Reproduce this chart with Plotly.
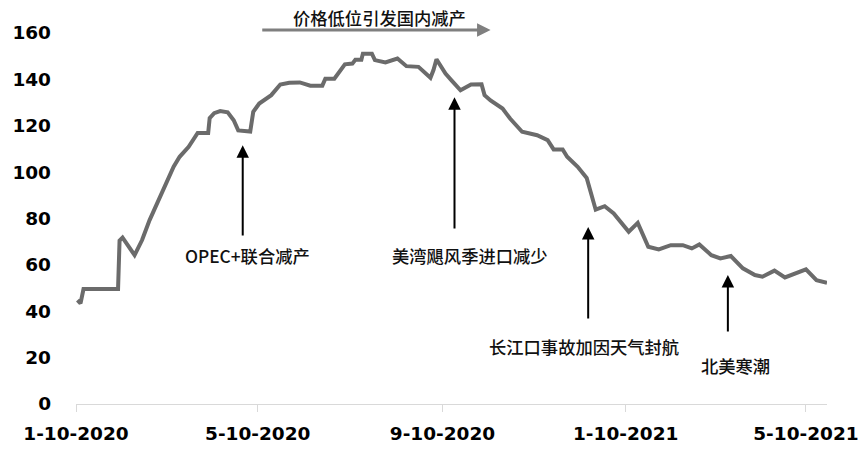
import plotly.graph_objects as go

# Price series
dates = [
    "2020-01-11", "2020-01-13", "2020-01-15", "2020-02-07", "2020-02-08", "2020-02-10",
    "2020-02-18", "2020-02-23", "2020-02-28", "2020-03-05", "2020-03-11", "2020-03-15",
    "2020-03-19", "2020-03-25", "2020-03-31", "2020-04-07", "2020-04-08", "2020-04-11",
    "2020-04-15", "2020-04-20", "2020-04-24", "2020-04-27", "2020-05-05", "2020-05-07",
    "2020-05-11", "2020-05-19", "2020-05-25", "2020-05-31", "2020-06-07", "2020-06-14",
    "2020-06-22", "2020-06-24", "2020-06-30", "2020-07-07", "2020-07-12", "2020-07-14",
    "2020-07-18", "2020-07-19", "2020-07-25", "2020-07-27", "2020-08-03", "2020-08-11",
    "2020-08-17", "2020-08-25", "2020-09-02", "2020-09-04", "2020-09-06", "2020-09-12",
    "2020-09-16", "2020-09-22", "2020-09-29", "2020-10-06", "2020-10-08", "2020-10-12",
    "2020-10-20", "2020-10-25", "2020-11-02", "2020-11-12", "2020-11-19", "2020-11-23",
    "2020-11-29", "2020-12-02", "2020-12-09", "2020-12-15", "2020-12-21", "2020-12-27",
    "2021-01-02", "2021-01-12", "2021-01-18", "2021-01-25", "2021-02-01", "2021-02-09",
    "2021-02-17", "2021-02-23", "2021-02-28", "2021-03-08", "2021-03-14", "2021-03-21",
    "2021-03-29", "2021-04-06", "2021-04-11", "2021-04-19", "2021-04-26", "2021-05-10",
    "2021-05-17", "2021-05-24",
]
values = [
    44.8, 43.4, 49.6, 49.6, 70.5, 71.8,
    64.2, 70.7, 79.3, 87.9, 96.5, 102.3,
    106.6, 110.9, 116.9, 116.9, 123.3, 125.4,
    126.3, 125.8, 122.4, 118.0, 117.5, 126.0,
    129.6, 133.2, 137.8, 138.5, 138.7, 137.3,
    137.3, 140.3, 140.3, 146.5, 146.8, 148.5,
    148.5, 151.1, 151.1, 148.3, 147.3, 149.0,
    145.7, 145.4, 140.7, 144.0, 148.7, 142.5,
    139.6, 135.3, 137.8, 137.9, 133.2, 130.9,
    127.4, 123.1, 117.4, 115.9, 113.8, 109.8,
    109.8, 106.6, 102.3, 97.5, 83.8, 85.3,
    82.2, 74.3, 78.1, 67.8, 66.7, 68.5,
    68.5, 67.1, 68.8, 64.2, 62.8, 63.8,
    58.5, 55.6, 54.9, 57.5, 54.6, 58.1,
    53.4, 52.3,
]

# Axis ticks
x_tickvals = ["2020-01-10", "2020-05-10", "2020-09-10", "2021-01-10", "2021-05-10"]
x_ticktext = ["1-10-2020", "5-10-2020", "9-10-2020", "1-10-2021", "5-10-2021"]
y_tickvals = [0, 20, 40, 60, 80, 100, 120, 140, 160]

# Event annotations: label, arrow date, tip value, tail value, label date, label value
event_labels = ["OPEC+联合减产", "美湾飓风季进口减少", "长江口事故加因天气封航", "北美寒潮"]
event_dates = ["2020-04-30", "2020-09-18", "2020-12-16", "2021-03-19"]
event_tips = [111.6, 132.3, 76.3, 55.6]
event_tails = [72.0, 75.0, 36.2, 30.6]
label_dates = ["2020-05-03", "2020-09-28", "2020-12-13", "2021-03-24"]
label_values = [64.2, 64.2, 25.0, 16.8]

# Top period arrow
period_label = "价格低位引发国内减产"
period_start = "2020-05-12"
period_end = "2020-10-12"
period_label_date = "2020-07-30"

fig = go.Figure()
fig.add_trace(go.Scatter(
    x=dates, y=values, mode="lines",
    line=dict(color="#6b6b6b", width=4),
    hoverinfo="skip", showlegend=False,
))

cjk_font = dict(family="Noto Sans CJK SC", size=17.3, color="#111111", weight=500)

annotations = []
for lab, d, tip, tail, ld, lv in zip(event_labels, event_dates, event_tips, event_tails,
                                      label_dates, label_values):
    annotations.append(dict(
        x=d, y=tip, ax=d, ay=tail, xref="x", yref="y", axref="x", ayref="y",
        showarrow=True, arrowhead=2, arrowsize=1.25, arrowwidth=2, arrowcolor="#000000",
        text="",
    ))
    annotations.append(dict(
        x=ld, y=lv, xref="x", yref="y", text=lab, showarrow=False,
        font=cjk_font, xanchor="center", yanchor="middle",
    ))

annotations.append(dict(
    x=period_end, y=1.008, ax=period_start, ay=1.008,
    xref="x", yref="y domain", axref="x", ayref="y domain",
    showarrow=True, arrowhead=2, arrowsize=0.9, arrowwidth=3, arrowcolor="#7f7f7f",
    text="",
))
annotations.append(dict(
    x=period_label_date, y=1.043, xref="x", yref="paper", text=period_label,
    showarrow=False, font=cjk_font, xanchor="center", yanchor="middle",
))

fig.update_layout(
    width=861, height=452,
    margin=dict(l=76, r=34, t=33, b=48, autoexpand=False),
    paper_bgcolor="white", plot_bgcolor="white",
    annotations=annotations,
    xaxis=dict(
        type="date", range=["2020-01-10", "2021-05-24"],
        tickvals=x_tickvals, ticktext=x_ticktext,
        showgrid=False, zeroline=False, automargin=False,
        showline=True, linecolor="#d9d9d9", linewidth=1,
        ticks="outside", ticklen=7, tickcolor="#d9d9d9", ticklabelstandoff=6,
        tickfont=dict(family="DejaVu Sans", size=18.5, color="#000000", weight="bold"),
    ),
    yaxis=dict(
        range=[0, 160], tickvals=y_tickvals, automargin=False,
        showgrid=False, zeroline=False, showline=False,
        ticks="", ticklabelstandoff=24,
        tickfont=dict(family="DejaVu Sans", size=18.5, color="#000000", weight="bold"),
    ),
)

fig.write_html(
    "out.html",
    config={"displayModeBar": False},
    post_script="document.body.style.margin='0';document.body.style.padding='0';",
)
